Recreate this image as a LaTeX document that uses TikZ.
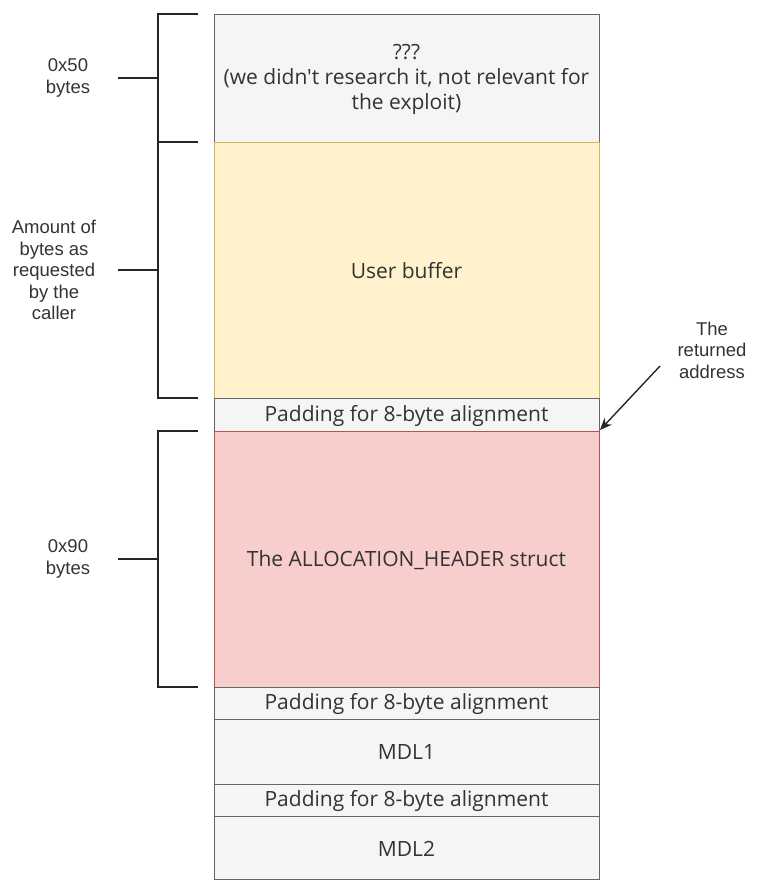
\documentclass[tikz,border=0pt]{standalone}
\usepackage{fontspec}
\setmainfont{Open Sans}[Ligatures=TeXOff]
\newfontfamily\labelfont{Liberation Sans}
\usetikzlibrary{arrows.meta}
\definecolor{grayfill}{HTML}{F5F5F5}
\definecolor{grayline}{HTML}{666666}
\definecolor{yellowfill}{HTML}{FFF2CC}
\definecolor{yellowline}{HTML}{D6B656}
\definecolor{redfill}{HTML}{F8CECC}
\definecolor{redline}{HTML}{B85450}
\definecolor{txt}{HTML}{333333}
\begin{document}
\begin{tikzpicture}[x=1pt,y=-1pt,
  cell/.style={draw=grayline,fill=grayfill,line width=1pt},
  celltext/.style={text=txt,font=\fontsize{21}{25}\selectfont,align=center},
  sidetext/.style={text=txt,font=\labelfont\fontsize{18.5}{21.5}\selectfont,align=center},
  brace/.style={line width=2.5pt,black!85},
  pointer/.style={-{Stealth[length=12pt,width=10pt]},line width=1.4pt,black!85}]
\useasboundingbox (0,0) rectangle (765,881);

% memory layout, top to bottom
\draw[cell] (214,14) rectangle (599,142);
\node[celltext] (unk) at (406.5,79) {???\\(we didn't research it, not relevant for\\the exploit)};
\draw[cell,draw=yellowline,fill=yellowfill] (214,142) rectangle (599,398);
\node[celltext] (ubuf) at (406.5,271) {User buffer};
\draw[cell] (214,398) rectangle (599,431);
\node[celltext] (pad1) at (406.5,416) {Padding for 8-byte alignment};
\draw[cell,draw=redline,fill=redfill] (214,431) rectangle (599,687);
\node[celltext] (hdr) at (406.5,560) {The ALLOCATION\_HEADER struct};
\draw[cell] (214,687) rectangle (599,719);
\node[celltext] (pad2) at (406.5,704) {Padding for 8-byte alignment};
\draw[cell] (214,719) rectangle (599,784);
\node[celltext] (mdl1) at (406.5,752) {MDL1};
\draw[cell] (214,784) rectangle (599,816);
\node[celltext] (pad3) at (406.5,801) {Padding for 8-byte alignment};
\draw[cell] (214,816) rectangle (599,879);
\node[celltext] (mdl2) at (406.5,849) {MDL2};

% size brackets on the left
\draw[brace] (198,14) -- (158,14) -- (158,142) -- (198,142);
\draw[brace] (118,78) -- (158,78);
\draw[brace] (158,142) -- (158,398) -- (198,398);
\draw[brace] (118,270) -- (158,270);
\draw[brace] (198,431) -- (158,431) -- (158,687) -- (198,687);
\draw[brace] (118,559) -- (158,559);

\node[sidetext] (s1) at (68,78) {0x50\\bytes};
\node[sidetext] (s2) at (54,270) {Amount of\\bytes as\\requested\\by the\\caller};
\node[sidetext] (s3) at (68,559) {0x90\\bytes};

% returned address pointer
\node[sidetext] (ret) at (712,350) {The\\returned\\address};
\coordinate (retfrom) at (660,366);
\coordinate (retto) at (600,430);
\draw[pointer] (retfrom) -- (retto);
\end{tikzpicture}
\end{document}
